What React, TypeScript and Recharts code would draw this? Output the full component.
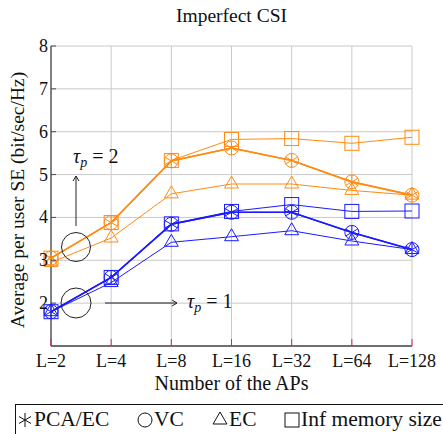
import React from 'react';
import { LineChart, Line, XAxis, YAxis, CartesianGrid } from 'recharts';

// number of APs (categories)
const aps = ['L=2', 'L=4', 'L=8', 'L=16', 'L=32', 'L=64', 'L=128'];
const yTicks = [2, 3, 4, 5, 6, 7, 8];

// tau_p = 2 (orange)
const pcaTau2 = [3.05, 3.88, 5.32, 5.62, 5.33, 4.83, 4.52];
const vcTau2 = [3.05, 3.88, 5.32, 5.62, 5.33, 4.83, 4.52];
const ecTau2 = [2.95, 3.52, 4.55, 4.78, 4.78, 4.63, 4.52];
const infTau2 = [3.05, 3.88, 5.33, 5.82, 5.84, 5.73, 5.87];

// tau_p = 1 (blue)
const pcaTau1 = [1.8, 2.6, 3.84, 4.12, 4.12, 3.65, 3.25];
const vcTau1 = [1.8, 2.6, 3.84, 4.12, 4.12, 3.65, 3.25];
const ecTau1 = [1.8, 2.48, 3.42, 3.55, 3.69, 3.45, 3.25];
const infTau1 = [1.8, 2.6, 3.85, 4.14, 4.3, 4.14, 4.15];

const data = aps.map((L, i) => ({
  L,
  pca2: pcaTau2[i],
  vc2: vcTau2[i],
  ec2: ecTau2[i],
  inf2: infTau2[i],
  pca1: pcaTau1[i],
  vc1: vcTau1[i],
  ec1: ecTau1[i],
  inf1: infTau1[i],
}));

const ORANGE = '#ff8a12';
const BLUE = '#1a1aff';
const FRAME = '#4a4a4a';
const TICK_RED = '#e0204f';
const FONT = "'Liberation Serif', 'DejaVu Serif', serif";

type Shape = 'star' | 'circle' | 'triangle' | 'square';

const Mark = ({ cx, cy, shape, color }: { cx?: number; cy?: number; shape: Shape; color: string }) => {
  if (cx == null || cy == null) return null;
  if (shape === 'circle') return <circle cx={cx} cy={cy} r={7} fill="none" stroke={color} strokeWidth={1} />;
  if (shape === 'square')
    return <rect x={cx - 7} y={cy - 7} width={14} height={14} fill="none" stroke={color} strokeWidth={1} />;
  if (shape === 'triangle') {
    const r = 8;
    const pts = `${cx},${cy - r} ${cx - r * 0.866},${cy + r / 2} ${cx + r * 0.866},${cy + r / 2}`;
    return <polygon points={pts} fill="none" stroke={color} strokeWidth={1} />;
  }
  const r = 7;
  const a = r * 0.866;
  const b = r / 2;
  return (
    <g stroke={color} strokeWidth={1}>
      <line x1={cx} y1={cy - r} x2={cx} y2={cy + r} />
      <line x1={cx - a} y1={cy - b} x2={cx + a} y2={cy + b} />
      <line x1={cx - a} y1={cy + b} x2={cx + a} y2={cy - b} />
    </g>
  );
};

const dotOf = (shape: Shape, color: string) => (p: any) =>
  <Mark key={`${shape}-${color}-${p.index}`} cx={p.cx} cy={p.cy} shape={shape} color={color} />;

const BottomTick = (p: any) => (
  <g>
    <line x1={p.x} x2={p.x} y1={p.y} y2={p.y - 7} stroke={TICK_RED} strokeWidth={1} />
    <text x={p.x} y={p.y + 21} textAnchor="middle" fontSize={18} fontFamily={FONT} fill="#111">
      {p.payload.value}
    </text>
  </g>
);

const TopTick = (p: any) => (
  <line x1={p.x} x2={p.x} y1={p.y} y2={p.y + 7} stroke={TICK_RED} strokeWidth={1} />
);

const LeftTick = (p: any) => (
  <g>
    <line x1={p.x} x2={p.x + 5} y1={p.y} y2={p.y} stroke={FRAME} strokeWidth={1} />
    <text x={p.x - 3} y={p.y + 6} textAnchor="end" fontSize={18} fontFamily={FONT} fill="#111">
      {p.payload.value}
    </text>
  </g>
);

const RightTick = (p: any) => (
  <line x1={p.x} x2={p.x - 5} y1={p.y} y2={p.y} stroke={FRAME} strokeWidth={1} />
);

const Tau = ({ x, y, n }: { x: number; y: number; n: number }) => (
  <text x={x} y={y} fontSize={20} fontFamily={FONT} fill="#111">
    <tspan fontStyle="italic">τ</tspan>
    <tspan fontStyle="italic" fontSize={14} dy={4}>p</tspan>
    <tspan dy={-4} dx={5}>=</tspan>
    <tspan dx={5}>{n}</tspan>
  </text>
);

const LegendIcon = ({ shape }: { shape: Shape }) => (
  <svg width={16} height={16} style={{ verticalAlign: '-2px', marginRight: 1 }}>
    <Mark cx={8} cy={8} shape={shape} color="#111" />
  </svg>
);

const legendItems: { shape: Shape; label: string; left: number }[] = [
  { shape: 'star', label: 'PCA/EC', left: 1 },
  { shape: 'circle', label: 'VC', left: 121 },
  { shape: 'triangle', label: 'EC', left: 196 },
  { shape: 'square', label: 'Inf memory size', left: 268 },
];

export default function App() {
  return (
    <div style={{ position: 'absolute', left: 0, top: 0, width: 443, height: 434, fontFamily: FONT, overflow: 'hidden' }}>
      <LineChart width={443} height={434} data={data} margin={{ top: 46, right: 31, bottom: 58, left: 0 }}>
        <CartesianGrid stroke="#c9c9c9" strokeWidth={1} />
        <XAxis
          dataKey="L"
          interval={0}
          height={30}
          tickSize={0}
          tickMargin={0}
          tickLine={false}
          tick={BottomTick}
          axisLine={{ stroke: FRAME, strokeWidth: 1.3 }}
        />
        <XAxis
          xAxisId="top"
          orientation="top"
          dataKey="L"
          interval={0}
          height={0}
          tickSize={0}
          tickMargin={0}
          tickLine={false}
          tick={TopTick}
          axisLine={{ stroke: FRAME, strokeWidth: 1.3 }}
        />
        <YAxis
          type="number"
          domain={[1, 8]}
          ticks={yTicks}
          width={51}
          tickSize={0}
          tickMargin={0}
          tickLine={false}
          tick={LeftTick}
          axisLine={{ stroke: FRAME, strokeWidth: 1.3 }}
        />
        <YAxis
          yAxisId="right"
          orientation="right"
          type="number"
          domain={[1, 8]}
          allowDataOverflow
          ticks={yTicks}
          width={0}
          tickSize={0}
          tickMargin={0}
          tickLine={false}
          tick={RightTick}
          axisLine={{ stroke: FRAME, strokeWidth: 2 }}
        />

        <Line dataKey="inf2" stroke={ORANGE} strokeWidth={1} dot={dotOf('square', ORANGE)} isAnimationActive={false} />
        <Line dataKey="ec2" stroke={ORANGE} strokeWidth={1} dot={dotOf('triangle', ORANGE)} isAnimationActive={false} />
        <Line dataKey="vc2" stroke={ORANGE} strokeWidth={1.3} dot={dotOf('circle', ORANGE)} isAnimationActive={false} />
        <Line dataKey="pca2" stroke={ORANGE} strokeWidth={1.6} dot={dotOf('star', ORANGE)} isAnimationActive={false} />

        <Line dataKey="inf1" stroke={BLUE} strokeWidth={1} dot={dotOf('square', BLUE)} isAnimationActive={false} />
        <Line dataKey="ec1" stroke={BLUE} strokeWidth={1} dot={dotOf('triangle', BLUE)} isAnimationActive={false} />
        <Line dataKey="vc1" stroke={BLUE} strokeWidth={1.3} dot={dotOf('circle', BLUE)} isAnimationActive={false} />
        <Line dataKey="pca1" stroke={BLUE} strokeWidth={1.6} dot={dotOf('star', BLUE)} isAnimationActive={false} />
      </LineChart>

      {/* title, axis titles and the tau_p annotations */}
      <svg width={443} height={434} style={{ position: 'absolute', left: 0, top: 0, pointerEvents: 'none' }}>
        <text x={231.5} y={22} textAnchor="middle" fontSize={19.5} fontFamily={FONT} fill="#111">Imperfect CSI</text>
        <text x={231.5} y={390} textAnchor="middle" fontSize={20} fontFamily={FONT} fill="#111">Number of the APs</text>
        <text
          transform="translate(24,200) rotate(-90)"
          textAnchor="middle"
          fontSize={19.5}
          fontFamily={FONT}
          fill="#111"
        >
          Average per user SE (bit/sec/Hz)
        </text>

        <g stroke="#222" strokeWidth={1} fill="none">
          <circle cx={76} cy={247} r={14.5} />
          <circle cx={76} cy={303} r={15} />
          <line x1={76} y1={226} x2={76} y2={176} />
          <polyline points="73,181 76,176 79,181" />
          <line x1={105} y1={303} x2={177} y2={303} />
          <polyline points="172,300 177,303 172,306" />
        </g>
        <Tau x={73} y={163} n={2} />
        <Tau x={187} y={308} n={1} />
      </svg>

      <div
        style={{
          position: 'absolute',
          left: 15,
          top: 404,
          width: 440,
          height: 40,
          border: '1px solid #111',
          fontSize: 21.5,
          color: '#111',
        }}
      >
        {legendItems.map((it) => (
          <span key={it.label} style={{ position: 'absolute', left: it.left, top: 2, whiteSpace: 'nowrap' }}>
            <LegendIcon shape={it.shape} />
            {it.label}
          </span>
        ))}
      </div>
    </div>
  );
}
